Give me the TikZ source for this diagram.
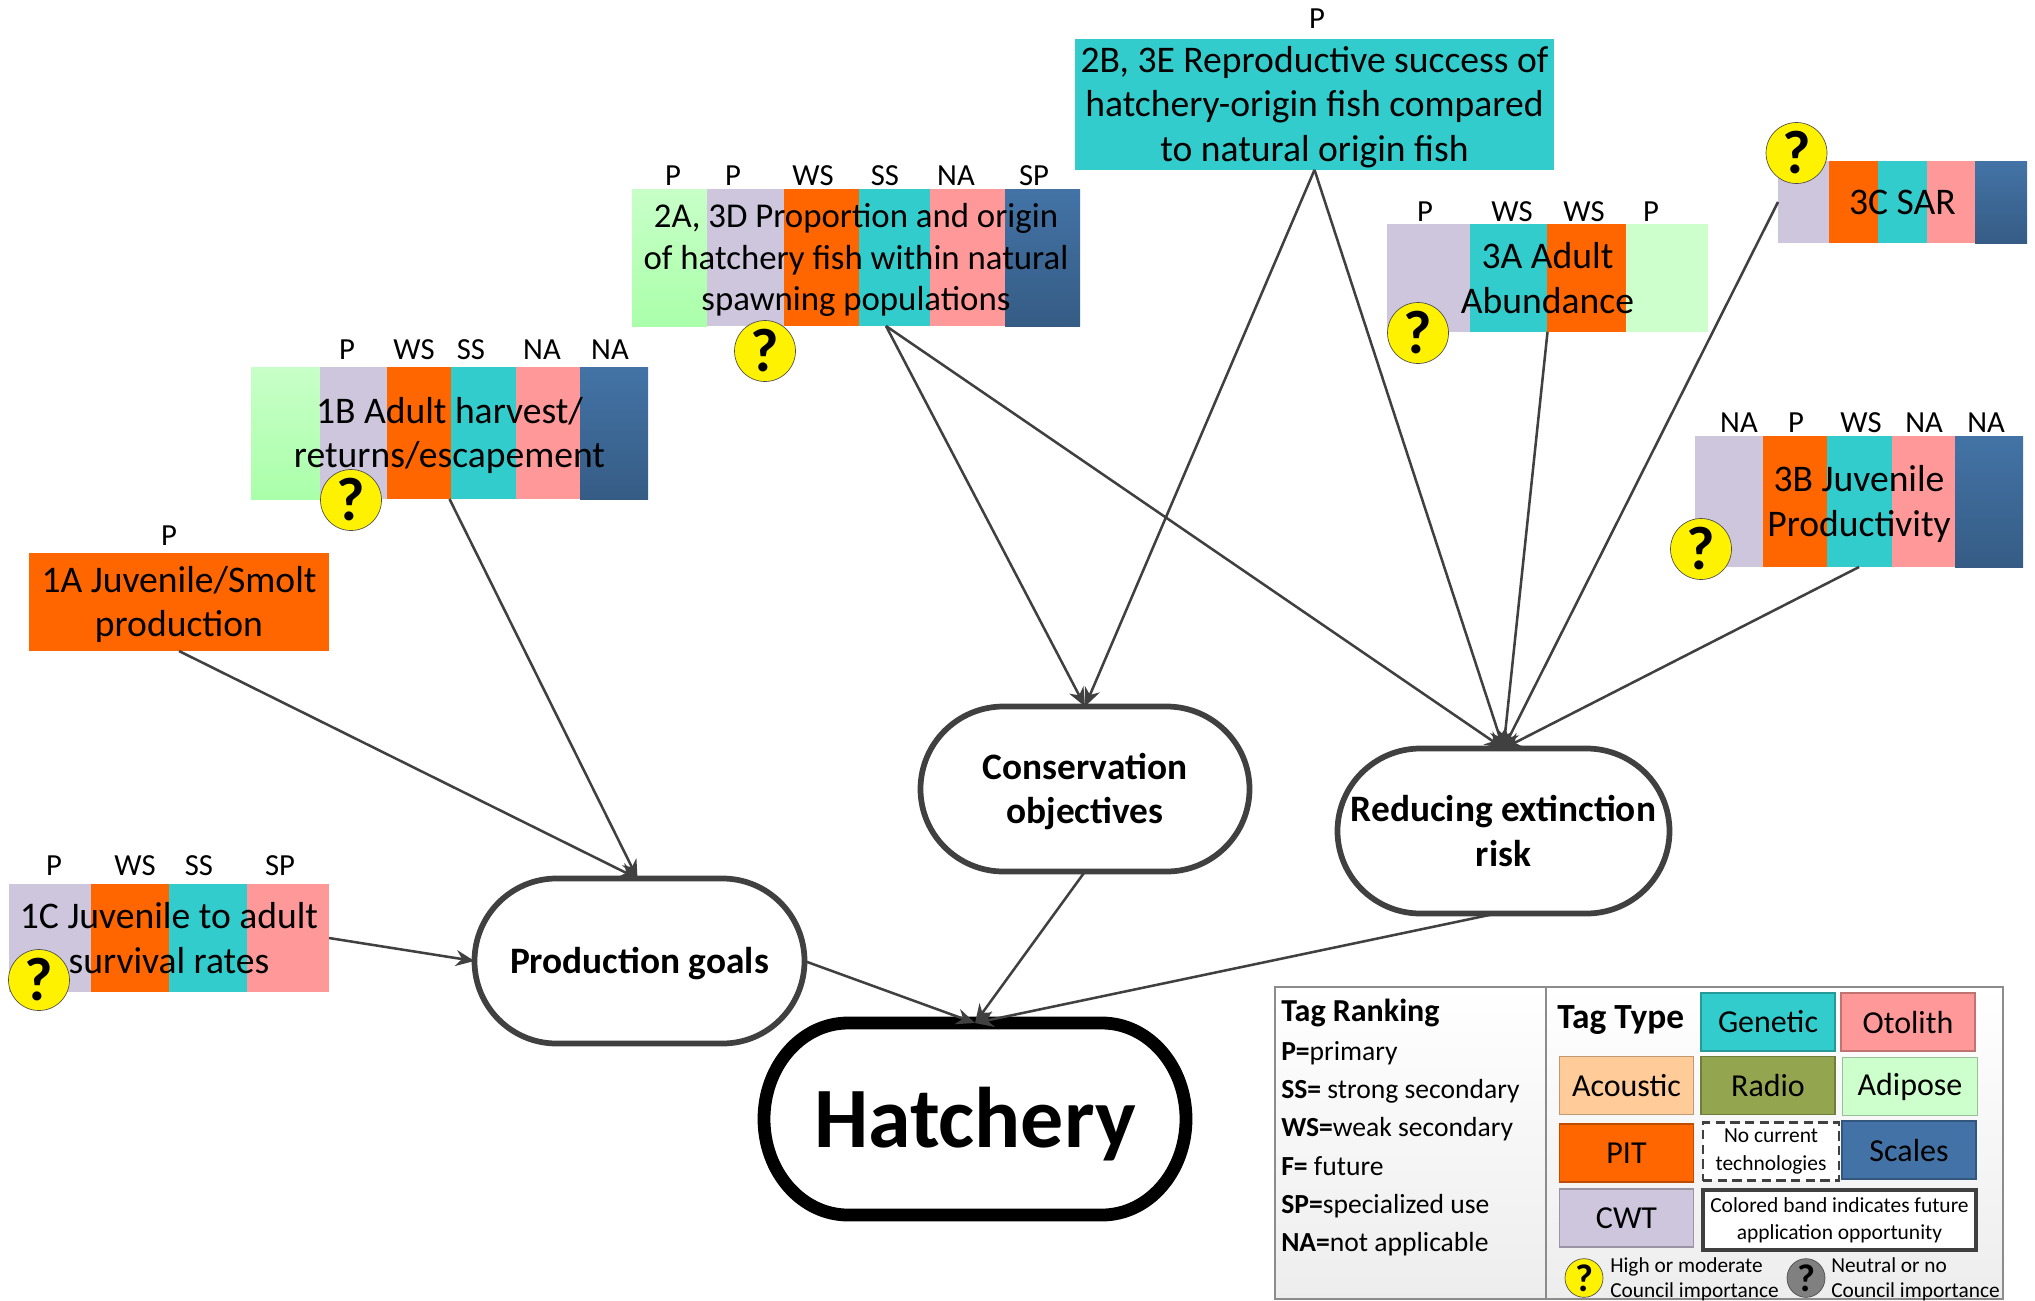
\documentclass[tikz,border=0pt]{standalone}
\usepackage{fontspec}
\setmainfont{Carlito}
\usetikzlibrary{arrows.meta,calc,shapes.geometric}
\definecolor{cG}{HTML}{33CCCC}
\definecolor{cO}{HTML}{FF6600}
\definecolor{cR}{HTML}{FF9999}
\definecolor{cL}{HTML}{CDC6DC}
\definecolor{cA}{HTML}{CCFFCC}
\definecolor{cN}{HTML}{FFCC99}
\definecolor{cV}{HTML}{93A64F}
\definecolor{cB}{HTML}{4373A6}
\definecolor{cHa}{HTML}{C8FFC8}
\definecolor{cHb}{HTML}{AAFFAA}
\definecolor{line}{HTML}{404040}
\newcommand\lift{\rule{0pt}{23.5pt}}
\tikzset{
  x=.75pt,y=-.75pt,
  bG/.style={fill=cG},
  bO/.style={fill=cO},
  bR/.style={fill=cR},
  bL/.style={fill=cL},
  bA/.style={fill=cA},
  bH/.style={top color=cHa,bottom color=cHb},
  bB/.style={top color=cB,bottom color=cB!80!black},
  boxtext/.style={inner sep=0pt,outer sep=0pt,align=center,font=\fontsize{28.2}{33.4}\selectfont},
  taglab/.style={inner sep=0pt,font=\fontsize{23}{27}\selectfont},
  qmark/.style={circle,draw=black!70,line width=.5pt,fill=yellow,inner sep=0pt,minimum size=45.75pt,font=\fontsize{46}{46}\selectfont\bfseries},
  qsmall/.style={ellipse,draw=black!70,line width=.5pt,inner sep=0pt,minimum width=28.5pt,minimum height=29pt,font=\fontsize{29}{29}\selectfont\bfseries},
  link/.style={draw=line,line width=1.9pt,-{Stealth[length=14pt,width=12pt]}},
  goal/.style={draw=line,line width=4.3pt,fill=white},
  hatch/.style={draw=black,line width=9.6pt,fill=white},
  goaltext/.style={inner sep=0pt,outer sep=0pt,align=center,font=\fontsize{28}{33.4}\selectfont\bfseries},
  panel/.style={draw=black!45,line width=.9pt,top color=white,bottom color=black!7},
  legtitle/.style={anchor=west,inner sep=0pt,font=\fontsize{24}{28}\selectfont\bfseries,text height=16pt,text depth=5pt},
  legitem/.style={anchor=west,inner sep=0pt,font=\fontsize{20.7}{25}\selectfont,text height=14pt,text depth=4.5pt},
  tagbox/.style={draw=#1!75!black,line width=.8pt,fill=#1,inner sep=0pt,outer sep=0pt,font=\fontsize{24}{28}\selectfont},
  small/.style={inner sep=0pt,align=center,font=\fontsize{16.1}{20.5}\selectfont},
  note/.style={anchor=west,inner sep=0pt,align=left,font=\fontsize{16}{19}\selectfont},
}
% name, x1, y1, x2, y2, rx, ry, style, text-style
\newcommand\stadium[9]{%
  \pgfmathsetmacro\sa{#2+#6}\pgfmathsetmacro\sb{#4-#6}%
  \pgfmathsetmacro\sc{#3+#7}\pgfmathsetmacro\sd{#5-#7}%
  \pgfmathsetmacro\kx{.5523*#6}\pgfmathsetmacro\ky{.5523*#7}%
  \draw[#8] (\sa,#3) -- (\sb,#3)
    .. controls +(\kx,0) and (#4,\sc-\ky) .. (#4,\sc) -- (#4,\sd)
    .. controls (#4,\sd+\ky) and (\sb+\kx,#5) .. (\sb,#5) -- (\sa,#5)
    .. controls (\sa-\kx,#5) and (#2,\sd+\ky) .. (#2,\sd) -- (#2,\sc)
    .. controls (#2,\sc-\ky) and (\sa-\kx,#3) .. (\sa,#3) -- cycle;
  \pgfmathsetmacro\sw{(#4-#2)*.75}\pgfmathsetmacro\sh{(#5-#3)*.75}%
  \node[goaltext,#9,minimum width=\sw pt,minimum height=\sh pt] (#1) at ({(#2+#4)/2},{(#3+#5)/2})}
\begin{document}
\begin{tikzpicture}
\useasboundingbox (0,0) rectangle (2035,1300);
% colour bands of the objective boxes
\foreach \a/\b/\col in {632/707/bH,707/784/bL,784/859/bO,859/930/bG,930/1005/bR,1005/1080/bB}
  \fill[\col] (\a,189) rectangle (\b,326);
\foreach \a/\b/\col in {251/320/bH,320/387/bL,387/451/bO,451/516/bG,516/580/bR,580/648/bB}
  \fill[\col] (\a,367) rectangle (\b,499);
\fill[bO] (29,553) rectangle (329,651);
\foreach \a/\b/\col in {9/91/bL,91/169/bO,169/247/bG,247/329/bR}
  \fill[\col] (\a,884) rectangle (\b,992);
\fill[bG] (1075,39) rectangle (1554,170);
\foreach \a/\b/\col in {1387/1470/bL,1470/1547/bG,1547/1626/bO,1626/1708/bA}
  \fill[\col] (\a,224) rectangle (\b,332);
\foreach \a/\b/\col in {1778/1829/bL,1829/1878/bO,1878/1927/bG,1927/1975/bR,1975/2027/bB}
  \fill[\col] (\a,161) rectangle (\b,243);
\foreach \a/\b/\col in {1695/1763/bL,1763/1827/bO,1827/1892/bG,1892/1955/bR,1955/2023/bB}
  \fill[\col] (\a,436) rectangle (\b,567);
% objective texts
\node[boxtext,minimum width=336pt,minimum height=102.75pt,font=\fontsize{26.1}{31.3}\selectfont] (a2) at (856,257.5) {\rule{0pt}{22pt}2A, 3D Proportion and origin\\of hatchery fish within natural\\spawning populations};
\node[boxtext,minimum width=298.5pt,minimum height=99pt] (b1) at (449.5,433) {\lift 1B Adult harvest/\\returns/escapement};
\node[boxtext,minimum width=225pt,minimum height=73.5pt] (a1) at (179,602) {\lift 1A Juvenile/Smolt\\production};
\node[boxtext,minimum width=240pt,minimum height=81pt] (c1) at (169,938) {1C Juvenile to adult\\survival rates};
\node[boxtext,minimum width=359pt,minimum height=98pt] (b2) at (1314.5,104.5) {\lift 2B, 3E Reproductive success of\\hatchery-origin fish compared\\to natural origin fish};
\node[boxtext,minimum width=241pt,minimum height=81pt] (a3) at (1547.5,278) {3A Adult\\Abundance};
\node[boxtext,minimum width=186.75pt,minimum height=61.5pt] (c3) at (1902.5,202) {3C SAR};
\node[boxtext,minimum width=246pt,minimum height=98.25pt] (b3) at (1859,501.5) {\lift 3B Juvenile\\Productivity};
% tag rank labels
\foreach \x/\t [count=\i] in {673/P,733/P,813/WS,885/SS,956/NA,1034/SP}
  \node[taglab] (ra\i) at (\x,175.5) {\t};
\foreach \x/\t [count=\i] in {347/P,414/WS,471/SS,542/NA,610/NA}
  \node[taglab] (rb\i) at (\x,350) {\t};
\node[taglab] (rc1) at (169,536) {P};
\foreach \x/\t [count=\i] in {54/P,135/WS,199/SS,280/SP}
  \node[taglab] (rd\i) at (\x,866) {\t};
\node[taglab] (re1) at (1317,19) {P};
\foreach \x/\t [count=\i] in {1425/P,1512/WS,1584/WS,1651/P}
  \node[taglab] (rf\i) at (\x,212) {\t};
\foreach \x/\t [count=\i] in {1739/NA,1796/P,1861/WS,1924/NA,1986/NA}
  \node[taglab] (rg\i) at (\x,423) {\t};
% importance marks
\foreach \x/\y [count=\i] in {765/351,351/500,39/980,1418/333,1796.5/153,1701/549}
  \node[qmark] (q\i) at (\x,\y) {?};
% goals
\stadium{prod}{474.5}{878.5}{804.5}{1043.5}{82}{82.5}{goal}{}{\lift Production goals};
\stadium{cons}{920.5}{706.5}{1249.5}{871.5}{83}{82.5}{goal}{}{\lift Conservation\\objectives};
\stadium{red}{1337.5}{748.5}{1669.5}{913.5}{83}{82.5}{goal}{}{Reducing extinction\\risk};
\stadium{hat}{764}{1023}{1186}{1215}{84}{96}{hatch}{font=\fontsize{64.5}{70}\selectfont\bfseries,text height=54.5pt,text depth=12pt}{Hatchery};
% connectors
\draw[link] (a1.south) -- ($(prod.north)+(-2,0)$);
\draw[link] (b1.south) -- ($(prod.north)+(-2,0)$);
\draw[link] (c1.east) -- (prod.west);
\draw[link] ($(a2.south)+(30,0)$) -- (cons.north);
\draw[link] ($(a2.south)+(30,0)$) -- (red.north);
\draw[link] (b2.south) -- (cons.north);
\draw[link] (b2.south) -- (red.north);
\draw[link] (a3.south) -- (red.north);
\draw[link] (c3.west) -- (red.north);
\draw[link] (b3.south) -- (red.north);
\draw[link] (prod.east) -- (hat.north);
\draw[link] (cons.south) -- (hat.north);
\draw[link] ($(red.south)+(-7,0)$) -- (hat.north);
% legend
\draw[panel] (1275,987) rectangle (1546,1299);
\draw[panel] (1546,987) rectangle (2003,1299);
\node[legtitle] (lt1) at (1281,1014) {Tag Ranking};
\node[legitem] (li1) at (1281,1054.5) {\textbf{P=}primary};
\node[legitem] (li2) at (1281,1092.5) {\textbf{SS=} strong secondary};
\node[legitem] (li3) at (1281,1130.5) {\textbf{WS=}weak secondary};
\node[legitem] (li4) at (1281,1169.5) {\textbf{F=} future};
\node[legitem] (li5) at (1281,1207.5) {\textbf{SP=}specialized use};
\node[legitem] (li6) at (1281,1245.5) {\textbf{NA=}not applicable};
\node[legtitle,font=\fontsize{26.5}{30}\selectfont\bfseries] (lt2) at (1557,1021) {Tag Type};
\node[tagbox=cG,minimum width=100.5pt,minimum height=43.5pt] (tg) at (1768,1022) {Genetic};
\node[tagbox=cR,minimum width=100.5pt,minimum height=43.5pt] (tr) at (1908,1022) {Otolith};
\node[tagbox=cN,minimum width=101pt,minimum height=43pt] (tn) at (1626.5,1085.5) {Acoustic};
\node[tagbox=cV,minimum width=100.5pt,minimum height=43pt] (tv) at (1768,1085.5) {Radio};
\node[tagbox=cA,minimum width=101pt,minimum height=43pt] (ta) at (1910,1086.5) {Adipose};
\node[tagbox=cO,minimum width=101pt,minimum height=43.5pt] (to) at (1626.5,1153) {PIT};
\node[small,draw=line,dash pattern=on 7pt off 4pt,line width=1.8pt,fill=white,minimum width=102pt,minimum height=43.5pt] (tn2) at (1771,1151.5) {No current\\technologies};
\node[tagbox=cB,minimum width=100.5pt,minimum height=43.5pt] (tb) at (1909,1150) {Scales};
\node[tagbox=cL,minimum width=101pt,minimum height=43.5pt] (tl) at (1626.5,1218) {CWT};
\node[small,draw=line,line width=2.6pt,fill=white,minimum width=204.5pt,minimum height=45pt] (tc) at (1839.5,1220) {Colored band indicates future\\application opportunity};
\node[qsmall,fill=yellow] (qy) at (1584,1278) {?};
\node[note] (ny) at (1610,1279.5) {High or moderate\\Council importance};
\node[qsmall,fill=black!50] (qg) at (1806,1278) {?};
\node[note] (ng) at (1831,1279.5) {Neutral or no\\Council importance};
\end{tikzpicture}
\end{document}
